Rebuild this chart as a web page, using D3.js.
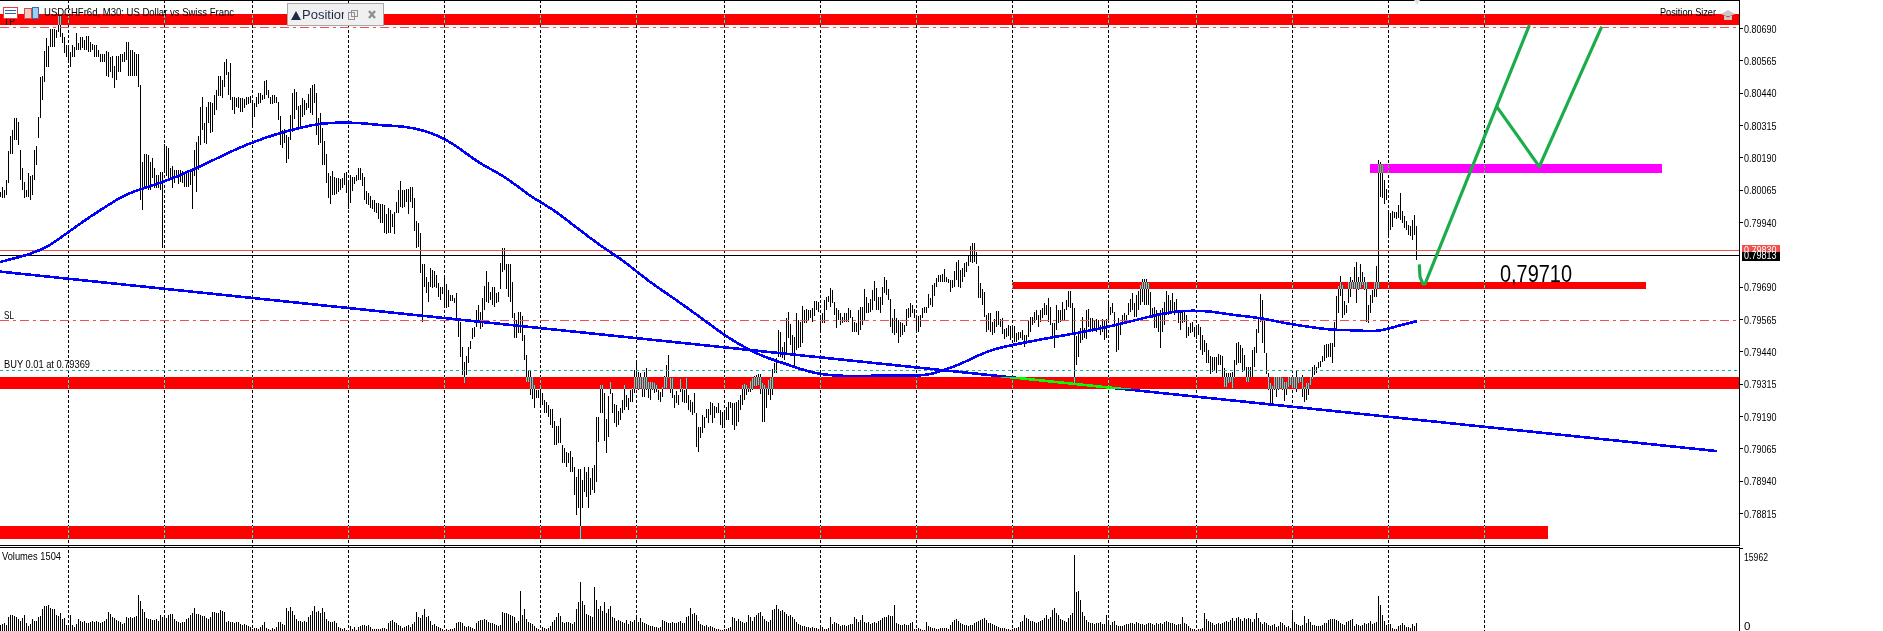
<!DOCTYPE html>
<html><head><meta charset="utf-8">
<script src="https://cdn.jsdelivr.net/npm/d3@7"></script>
<style>html,body{margin:0;padding:0;background:#fff;overflow:hidden}svg{display:block}
text{font-family:"Liberation Sans",Arial,sans-serif;fill:#000}</style></head><body>
<script>
// Prices are in points (1 point = 0.00001). One inner list per trading session.
const sessionLengths=[34,48,44,48,48,48,48,44,48,48,48,48,44,48,48,15];
const highs=[
[80056,80075,80063,80102,80214,80272,80295,80342,80342,80326,80218,80148,80094,80063,80129,80118,80122,80218,80234,80345,80500,80504,80601,80651,80620,80686,80686,80686,80682,80740,80740,80670,80655,80624],
[80624,80597,80624,80616,80670,80631,80655,80655,80643,80659,80659,80635,80628,80624,80624,80605,80590,80590,80590,80601,80597,80578,80582,80543,80582,80582,80590,80590,80597,80635,80635,80605,80605,80597,80590,80590,80469,80172,80203,80203,80199,80172,80187,80148,80122,80122,80133,80133],
[80241,80234,80226,80148,80156,80141,80141,80141,80141,80137,80129,80129,80133,80141,80141,80218,80249,80272,80384,80423,80322,80384,80403,80403,80400,80431,80450,80504,80504,80489,80558,80570,80520,80555,80423,80423,80419,80423,80419,80419,80415,80423,80423,80427],
[80403,80400,80423,80438,80438,80431,80485,80489,80450,80423,80431,80431,80423,80403,80349,80295,80299,80276,80268,80354,80438,80454,80442,80388,80392,80419,80411,80400,80435,80458,80469,80473,80438,80342,80361,80303,80253,80203,80129,80118,80137,80114,80110,80110,80106,80110,80129,80133],
[80098,80122,80114,80114,80122,80148,80148,80129,80114,80059,80052,80040,80025,80025,80013,80013,80009,80009,80005,79971,79994,79986,79971,79978,80017,80063,80098,80063,80063,80067,80067,80075,80075,80032,79943,79936,79897,79777,79777,79727,79708,79762,79754,79750,79735,79704,79688,79688],
[79731,79700,79677,79658,79658,79646,79665,79561,79553,79457,79398,79422,79457,79480,79530,79534,79600,79619,79592,79646,79692,79750,79708,79669,79688,79688,79665,79669,79781,79839,79839,79777,79777,79777,79708,79588,79561,79592,79592,79576,79503,79426,79368,79368,79341,79310,79290,79290],
[79298,79279,79252,79244,79232,79217,79217,79170,79151,79151,79182,79078,79066,79051,79047,79054,79031,78992,78954,78985,78985,78942,78992,78973,78992,78950,78989,79000,79186,79186,79310,79310,79279,79178,79267,79321,79279,79236,79232,79209,79221,79252,79310,79271,79259,79290,79298,79368],
[79406,79360,79356,79341,79360,79375,79321,79321,79321,79317,79310,79290,79283,79302,79344,79387,79426,79337,79337,79271,79286,79271,79333,79298,79290,79337,79271,79252,79244,79279,79202,79147,79147,79194,79186,79217,79217,79244,79240,79229,79225,79240,79213,79205],
[79205,79225,79244,79244,79240,79240,79244,79252,79271,79310,79314,79310,79298,79325,79337,79344,79348,79352,79352,79317,79310,79298,79329,79337,79372,79395,79414,79522,79515,79457,79476,79569,79592,79545,79503,79495,79588,79561,79553,79615,79600,79603,79600,79600,79608,79634,79634,79631],
[79580,79588,79638,79650,79654,79685,79677,79631,79608,79600,79588,79572,79588,79588,79608,79600,79572,79553,79549,79600,79611,79611,79681,79650,79627,79642,79677,79712,79685,79650,79650,79688,79727,79716,79681,79642,79569,79603,79569,79561,79553,79549,79541,79603,79608,79627,79619,79603],
[79572,79576,79580,79608,79611,79611,79661,79646,79696,79704,79723,79735,79735,79739,79758,79727,79719,79716,79716,79750,79785,79793,79754,79762,79781,79785,79808,79847,79859,79859,79824,79770,79704,79681,79669,79580,79588,79588,79553,79565,79596,79596,79565,79569,79526,79530,79541,79538],
[79541,79538,79510,79515,79515,79522,79503,79503,79561,79572,79572,79592,79600,79580,79600,79608,79627,79619,79646,79611,79549,79549,79619,79600,79600,79631,79603,79638,79673,79673,79627,79608,79499,79515,79530,79572,79530,79600,79603,79569,79569,79561,79565,79561,79541,79565,79561,79565],
[79638,79611,79627,79592,79541,79569,79549,79580,79588,79580,79627,79642,79665,79627,79658,79673,79696,79719,79719,79719,79704,79669,79608,79611,79600,79580,79600,79608,79631,79673,79658,79638,79665,79631,79642,79600,79592,79600,79592,79580,79534,79549,79553,79534],
[79541,79545,79534,79503,79484,79472,79445,79422,79418,79418,79418,79430,79426,79422,79375,79356,79356,79356,79360,79406,79472,79476,79464,79453,79426,79379,79379,79379,79445,79457,79526,79569,79661,79638,79561,79433,79356,79317,79306,79341,79341,79341,79341,79337,79321,79321,79341,79341],
[79341,79341,79368,79341,79341,79348,79302,79317,79317,79341,79379,79387,79379,79399,79402,79422,79464,79468,79468,79472,79472,79553,79654,79692,79731,79696,79634,79619,79708,79727,79716,79766,79785,79727,79777,79746,79727,79708,79619,79658,79677,79708,79770,80179,80172,80160,80102,80067],
[79986,79975,79982,79978,79978,80005,80052,79982,79963,79943,79928,79924,79947,79967,79924]
];
const lows=[
[80036,80032,80032,80044,80090,80203,80203,80257,80257,80238,80102,80063,80032,80036,80036,80025,80044,80102,80160,80264,80342,80411,80481,80539,80539,80616,80616,80616,80651,80674,80655,80631,80593,80578],
[80558,80539,80578,80578,80605,80605,80605,80612,80605,80605,80597,80597,80605,80578,80578,80578,80558,80558,80558,80504,80500,80520,80496,80458,80489,80520,80520,80558,80558,80566,80504,80504,80504,80504,80504,80462,80025,79986,80071,80071,80063,80063,80110,80071,80071,80071,80063,79839],
[80133,80118,80102,80102,80071,80090,80110,80086,80094,80090,80075,80075,80075,80083,79990,80118,80056,80141,80238,80295,80245,80241,80322,80283,80287,80354,80373,80427,80427,80419,80462,80508,80431,80411,80373,80358,80384,80380,80365,80365,80380,80392,80396,80400],
[80311,80345,80384,80396,80400,80411,80415,80431,80419,80396,80396,80400,80400,80334,80238,80226,80245,80168,80183,80257,80287,80338,80373,80303,80311,80345,80354,80373,80380,80361,80354,80400,80276,80238,80245,80160,80160,80090,80032,80009,80044,80044,80048,80056,80063,80071,80083,80052],
[79990,80013,80059,80086,80098,80102,80102,80079,80025,80009,80005,79994,79990,79978,79975,79951,79936,79936,79897,79893,79897,79897,79920,79893,79975,79975,79998,79994,79998,80017,79971,80017,79994,79905,79839,79843,79743,79553,79688,79665,79631,79688,79684,79688,79684,79650,79638,79661],
[79608,79608,79611,79634,79634,79627,79569,79495,79418,79348,79317,79348,79395,79449,79488,79495,79534,79561,79526,79534,79600,79631,79627,79638,79619,79611,79627,79631,79681,79746,79754,79681,79650,79631,79569,79491,79491,79510,79510,79480,79406,79321,79321,79271,79255,79221,79259,79259],
[79232,79232,79202,79202,79186,79155,79143,79078,79078,79085,79085,79008,79008,78992,79008,78973,78973,78885,78807,78834,78714,78834,78896,78877,78834,78885,78904,78892,78935,79089,79202,79202,79093,79047,79109,79275,79202,79163,79147,79155,79174,79202,79213,79225,79213,79244,79244,79279],
[79302,79290,79298,79263,79263,79290,79259,79252,79290,79279,79283,79252,79244,79263,79298,79298,79337,79279,79259,79221,79240,79232,79283,79244,79240,79240,79213,79205,79194,79202,79070,79051,79105,79124,79143,79182,79163,79194,79163,79182,79202,79202,79155,79143],
[79143,79174,79174,79221,79155,79136,79151,79167,79213,79232,79252,79271,79283,79283,79290,79306,79306,79310,79275,79167,79167,79221,79271,79252,79271,79356,79356,79418,79418,79414,79406,79426,79491,79464,79426,79383,79445,79453,79457,79472,79549,79549,79561,79569,79553,79576,79600,79592],
[79510,79549,79549,79600,79631,79611,79627,79580,79530,79561,79541,79549,79553,79553,79553,79569,79515,79515,79515,79503,79522,79541,79561,79588,79588,79592,79600,79634,79600,79600,79588,79619,79665,79658,79638,79534,79510,79503,79510,79472,79495,79503,79515,79538,79569,79572,79588,79569],
[79510,79515,79534,79569,79588,79588,79608,79619,79611,79654,79688,79708,79708,79708,79708,79708,79704,79669,79684,79688,79716,79688,79684,79708,79727,79746,79770,79785,79781,79785,79777,79646,79646,79619,79572,79515,79522,79515,79503,79510,79534,79541,79534,79507,79488,79495,79499,79484],
[79491,79476,79476,79484,79491,79484,79457,79472,79495,79515,79541,79549,79561,79534,79553,79569,79580,79580,79553,79541,79491,79453,79522,79549,79553,79561,79561,79600,79611,79608,79515,79317,79387,79418,79472,79484,79491,79488,79534,79522,79515,79530,79515,79530,79503,79515,79484,79491],
[79549,79580,79588,79534,79437,79445,79503,79541,79553,79549,79580,79592,79600,79572,79572,79600,79619,79631,79619,79619,79619,79580,79569,79530,79530,79515,79453,79515,79541,79580,79580,79588,79588,79580,79592,79549,79522,79549,79553,79491,79499,79510,79515,79495],
[79488,79503,79445,79426,79437,79395,79395,79352,79360,79368,79356,79387,79387,79341,79302,79302,79317,79321,79298,79337,79387,79395,79395,79360,79368,79321,79321,79341,79341,79379,79433,79510,79553,79472,79433,79352,79290,79232,79232,79290,79263,79290,79298,79290,79248,79271,79302,79310],
[79302,79298,79283,79317,79321,79263,79244,79252,79271,79310,79333,79348,79356,79375,79379,79399,79402,79414,79418,79418,79395,79457,79526,79588,79654,79569,79580,79588,79627,79650,79681,79684,79627,79677,79684,79696,79677,79553,79549,79588,79627,79650,79650,79684,80036,80032,80009,80025],
[79882,79909,79920,79955,79951,79955,79947,79936,79916,79909,79889,79886,79870,79889,79793]
];
// Tick volume, in hundreds of ticks.
const volumes=[
[12,13,15,12,27,31,31,29,27,23,19,25,31,15,10,13,23,19,19,27,29,42,48,48,50,44,42,42,31,29,35,23,25,12],
[10,31,12,8,13,23,19,17,19,15,15,17,19,17,19,17,15,17,19,23,36,33,27,25,21,19,17,13,15,27,25,27,25,27,29,69,58,42,36,25,23,23,21,21,23,19,31,27],
[31,25,31,33,33,23,19,17,15,17,17,23,25,31,35,44,33,33,31,29,29,25,23,27,36,36,35,35,40,38,36,17,19,17,17,15,17,17,13,12,13,12,10,8],
[4,6,6,4,8,12,17,6,4,2,6,4,8,17,17,13,12,44,38,46,38,31,23,19,19,17,19,17,27,31,38,48,36,38,35,44,36,23,19,17,17,19,15,8,6,4,6,2],
[2,10,4,8,2,8,10,12,12,10,12,8,4,4,4,4,4,6,6,4,15,19,21,17,15,12,10,6,8,10,12,8,13,17,36,27,25,31,42,27,29,19,12,13,10,8,6,4],
[2,4,2,4,4,6,15,17,17,15,10,8,10,8,6,4,15,19,21,21,23,21,17,15,15,13,12,10,12,36,35,35,33,31,29,27,15,19,77,31,42,23,17,15,13,10,6,4],
[2,8,6,4,6,10,17,21,27,35,29,17,15,17,17,15,13,17,42,56,94,58,50,33,31,29,27,84,60,42,48,38,56,35,42,48,27,25,19,21,19,17,15,21,13,19,17,21],
[27,17,25,17,15,13,12,10,10,8,8,6,8,21,19,17,15,15,17,15,15,17,19,15,15,27,29,44,33,35,31,19,13,12,10,12,8,10,8,6,4,4,2,2],
[4,4,6,8,27,25,19,23,19,17,15,17,31,27,19,27,31,35,36,29,23,19,17,21,40,42,50,42,38,40,36,33,29,31,27,23,17,13,12,10,10,8,8,6,8,6,6,4],
[10,8,4,4,6,27,13,17,15,13,10,12,12,10,12,13,13,27,23,17,21,31,17,15,17,13,15,17,15,19,21,25,27,27,31,29,29,50,15,13,12,12,13,12,12,15,17,4],
[4,6,4,2,2,17,10,8,6,6,4,4,6,6,6,6,4,12,17,21,23,19,15,13,12,12,10,12,12,15,17,19,21,23,25,21,15,15,13,12,10,8,6,6,6,4,4,2],
[4,6,6,8,17,19,31,25,23,19,19,17,15,17,19,21,25,31,23,27,40,44,35,31,23,21,19,17,25,31,35,146,75,77,60,36,29,21,17,15,15,13,15,15,17,13,13,31],
[15,12,17,19,12,10,10,10,12,13,13,15,15,13,17,15,13,13,12,13,15,15,13,12,15,13,15,13,17,19,17,15,15,13,12,13,13,27,15,13,10,6,4,4],
[2,4,4,6,35,23,19,17,15,12,13,15,13,15,17,19,17,21,25,19,25,27,23,19,25,23,25,23,17,23,35,25,17,13,17,15,12,10,12,13,8,10,17,15,12,8,10,6],
[35,17,13,12,10,12,29,15,23,17,12,12,10,10,10,12,15,15,21,23,23,23,21,19,15,13,12,17,19,21,23,10,13,12,10,12,15,13,15,19,13,15,17,67,50,31,19,12],
[13,13,6,4,4,10,12,15,12,8,8,6,13,10,15]
];
const gridBars=[34,82,126,174,222,270,318,362,410,458,506,554,598,646,694,742];
const maBars=[0,15.8,24.7,34.2,45.5,59.5,65.5,79,99,118.5,138.5,158,166,180,191.5,202.5,217.5,229,239,253,265,276.5,286.5,302.5,310,318,327,337.5,352,362,371.5,381.5,391.5,400,408,420,432.5,448.5,463,471,479.5,487.5,497.5,508,524.5,544.5,565,581.5,591.5,604,616,630,642,654,665.5,677.5,686.5,693.5,701.5,708.5];
const maValues=[79785,79816,79847,79901,79963,80032,80056,80086,80148,80226,80283,80319,80324,80324,80312,80311,80283,80231,80168,80115,80038,79990,79928,79835,79800,79750,79696,79642,79561,79503,79458,79419,79395,79372,79353,79344,79344,79348,79344,79365,79387,79419,79451,79467,79492,79518,79554,79588,79597,79597,79580,79570,79549,79535,79522,79522,79515,79525,79544,79556];
const trendBars=[0,858.5], trendValues=[79748,79054];
const greenPathBars=[709.65,710,711.5,712.5,764.7], greenPathValues=[79776,79728,79700,79700,80701];
const greenFlagBars=[748.2,769.65,800.85], greenFlagValues=[80388,80154,80695];
const priceTicks=[80690,80565,80440,80315,80190,80065,79940,79690,79565,79440,79315,79190,79065,78940,78815];
const volumeTicks=[0,15962];
const redZones=[[0,869.5,80744,80701],[0,869.5,79341,79294],[0,774,78764,78714],[506,823,79708,79681]];
const magentaZone=[685,831,80164,80129];
const tpPrice=80692, slPrice=79560, buyPrice=79369, askPrice=79830, bidPrice=79813;

const W=1883,H=631,axisX=1739;
const x=d3.scaleLinear().domain([0,1]).range([0,2]);
const y=d3.scaleLinear().domain([80798,78691]).range([0,545]);
const yV=d3.scaleLinear().domain([0,159.62]).range([631,548]);
const starts=d3.cumsum([0,...sessionLengths]).slice(0,sessionLengths.length);
const bars=[];
sessionLengths.forEach((n,s)=>{for(let j=0;j<highs[s].length;j++)bars.push({i:starts[s]+j,h:highs[s][j],l:lows[s][j],v:volumes[s][j]});});

const svg=d3.select('body').append('svg').attr('width',W).attr('height',H);
svg.append('rect').attr('width',W).attr('height',H).attr('fill','#fff');
const crisp=svg.append('g').attr('shape-rendering','crispEdges');
crisp.selectAll('.g').data(gridBars).join('line').attr('x1',d=>x(d)+.5).attr('x2',d=>x(d)+.5).attr('y1',0).attr('y2',H)
 .attr('stroke','#000').attr('stroke-dasharray','3,2');
const lab=(t,xx,yy,w,fs)=>{const e=svg.append('text').attr('x',xx).attr('y',yy).attr('font-size',fs||11.5).text(t);
 if(w)e.attr('textLength',w).attr('lengthAdjust','spacingAndGlyphs');return e;};
lab('USDCHFr6d, M30: US Dollar vs Swiss Franc',44,16,190);
lab('TP',4,24.5,11);
lab('SL',4,319,10);
lab('BUY 0.01 at 0.79369',4,368,86);
lab('Volumes 1504',2,560,59);
lab('Position Sizer',1660,16,56);
crisp.selectAll('.b').data(bars).join('line').attr('x1',d=>x(d.i)+.5).attr('x2',d=>x(d.i)+.5)
 .attr('y1',d=>y(d.h)).attr('y2',d=>y(d.l)).attr('stroke','#000');
crisp.selectAll('.v').data(bars).join('line').attr('x1',d=>x(d.i)+.5).attr('x2',d=>x(d.i)+.5)
 .attr('y1',d=>yV(d.v)).attr('y2',631).attr('stroke','#000');
const hl=(p,c,dash)=>crisp.append('line').attr('x1',0).attr('x2',axisX).attr('y1',Math.round(y(p))+.5).attr('y2',Math.round(y(p))+.5).attr('stroke',c).attr('stroke-dasharray',dash||null);
hl(tpPrice,'#f05050','9,4,3,4');hl(slPrice,'#f05050','9,4,3,4');hl(buyPrice,'#20b2a0','3,3');hl(askPrice,'#f05050');hl(bidPrice,'#000');
const ln=d3.line().x(d=>x(d[0])).y(d=>y(d[1]));
crisp.append('path').attr('d',ln(d3.zip(trendBars,trendValues))).attr('fill','none').attr('stroke','#0000ff').attr('stroke-width',2.6);
crisp.append('path').attr('d',d3.line().curve(d3.curveBasis).x(d=>x(d[0])).y(d=>y(d[1]))(d3.zip(maBars,maValues))).attr('fill','none').attr('stroke','#0000ff').attr('stroke-width',2.6);
const zone=(z,c)=>crisp.append('rect').attr('x',x(z[0])).attr('width',x(z[1])-x(z[0])).attr('y',y(z[2])).attr('height',y(z[3])-y(z[2])).attr('fill',c).style('mix-blend-mode','difference');
redZones.forEach(z=>zone(z,'#00ffff'));
zone(magentaZone,'#00ff00');
const fr=(a,b,c,d)=>crisp.append('line').attr('x1',a).attr('y1',b).attr('x2',c).attr('y2',d).attr('stroke','#000');
fr(0,.5,axisX,.5);fr(0,545.5,axisX+.5,545.5);fr(0,547.5,axisX+.5,547.5);fr(axisX+.5,0,axisX+.5,546);fr(axisX+.5,547,axisX+.5,H);
const ax=svg.append('g').attr('transform',`translate(${axisX},0)`).call(d3.axisRight(y).tickValues(priceTicks).tickSize(4).tickPadding(1).tickFormat(d=>(d/1e5).toFixed(5)));
ax.select('.domain').remove();
const av=svg.append('g').attr('transform',`translate(${axisX},0)`).call(d3.axisRight(yV).tickValues(volumeTicks.map(d=>d/100)).tickSize(4).tickPadding(1).tickFormat(d=>d3.format('d')(d*100)));
av.select('.domain').remove();
ax.selectAll('text').attr('font-size',11.5).attr('font-family','"Liberation Sans"').attr('textLength',32.5).attr('lengthAdjust','spacingAndGlyphs').attr('dy','.36em');
av.selectAll('text').attr('font-size',11.5).attr('font-family','"Liberation Sans"').attr('dy',(d,i)=>i?'1.05em':'-.15em');
av.selectAll('text').filter((d,i)=>i==1).attr('textLength',24).attr('lengthAdjust','spacingAndGlyphs');
av.selectAll('line').attr('shape-rendering','crispEdges');ax.selectAll('line').attr('shape-rendering','crispEdges');
const tag=(c,top,h)=>{crisp.append('rect').attr('x',axisX+2.5).attr('y',top).attr('width',38.5).attr('height',h).attr('fill',c);};
tag('#f05050',245,9);
svg.append('text').attr('x',1744).attr('y',y(askPrice)+4).attr('font-size',11.5).attr('textLength',32.5).attr('lengthAdjust','spacingAndGlyphs').style('fill','#fff').text((askPrice/1e5).toFixed(5));
const overlay=svg.append('g').attr('shape-rendering','crispEdges');
overlay.append('rect').attr('x',axisX+2.5).attr('y',251.5).attr('width',38.5).attr('height',9.5).attr('fill','#000');
svg.append('text').attr('x',1744).attr('y',y(bidPrice)+4.3).attr('font-size',11.5).attr('textLength',32.5).attr('lengthAdjust','spacingAndGlyphs').style('fill','#fff').text((bidPrice/1e5).toFixed(5));
const g=d3.line().x(d=>x(d[0])).y(d=>y(d[1]));
[[greenPathBars,greenPathValues],[greenFlagBars,greenFlagValues]].forEach(([a,b])=>svg.append('path').attr('d',g(d3.zip(a,b))).attr('fill','none').attr('stroke','#1bac4b').attr('stroke-width',3.2).attr('stroke-linejoin','round'));
lab('0,79710',1500,282,72,23);
const ic=svg.append('g').attr('shape-rendering','crispEdges');
ic.append('rect').attr('x',3.5).attr('y',7.5).attr('width',14).attr('height',11).attr('fill','#fff').attr('stroke','#e04040');
[10.5,13.5].forEach(v=>ic.append('line').attr('x1',5).attr('x2',16).attr('y1',v).attr('y2',v).attr('stroke','#3060b0'));
ic.append('rect').attr('x',24.5).attr('y',8.5).attr('width',7).attr('height',10).attr('fill','#f7c8c0').attr('stroke','#d05050');
ic.append('rect').attr('x',32.5).attr('y',7.5).attr('width',6).attr('height',11).attr('fill','#9fd0ee').attr('stroke','#3070b0');
svg.append('path').attr('d','M1414,0L1420,0L1417,5Z').attr('fill','#e0e0e0');
svg.append('path').attr('d','M1721,14L1728,10L1735,14L1728,17Z M1724,16L1724,20L1732,20L1732,16').attr('fill','#c8c8c8');
const pn=svg.append('g');
pn.append('rect').attr('x',287).attr('y',3).attr('width',96.5).attr('height',22.5).attr('fill','#f0f0f0').attr('stroke','#a8a8a8').attr('shape-rendering','crispEdges');
pn.append('path').attr('d','M291,20L296,11L301,20Z').attr('fill','#1c2a45');
svg.append('clipPath').attr('id','pc').append('rect').attr('x',300).attr('y',3).attr('width',44).attr('height',22);
pn.append('text').attr('x',302).attr('y',19).attr('font-size',13).attr('clip-path','url(#pc)').attr('font-family','"Liberation Sans"').style('fill','#1c2a45').text('Position Sizer');
pn.append('rect').attr('x',348.5).attr('y',12.5).attr('width',6).attr('height',7).attr('fill','none').attr('stroke','#909090').attr('shape-rendering','crispEdges');
pn.append('rect').attr('x',351.5).attr('y',10.5).attr('width',6).attr('height',6).attr('fill','none').attr('stroke','#909090').attr('shape-rendering','crispEdges');
pn.append('path').attr('d','M369,11L375,18M375,11L369,18').attr('stroke','#909090').attr('stroke-width',2.4);
</script></body></html>
